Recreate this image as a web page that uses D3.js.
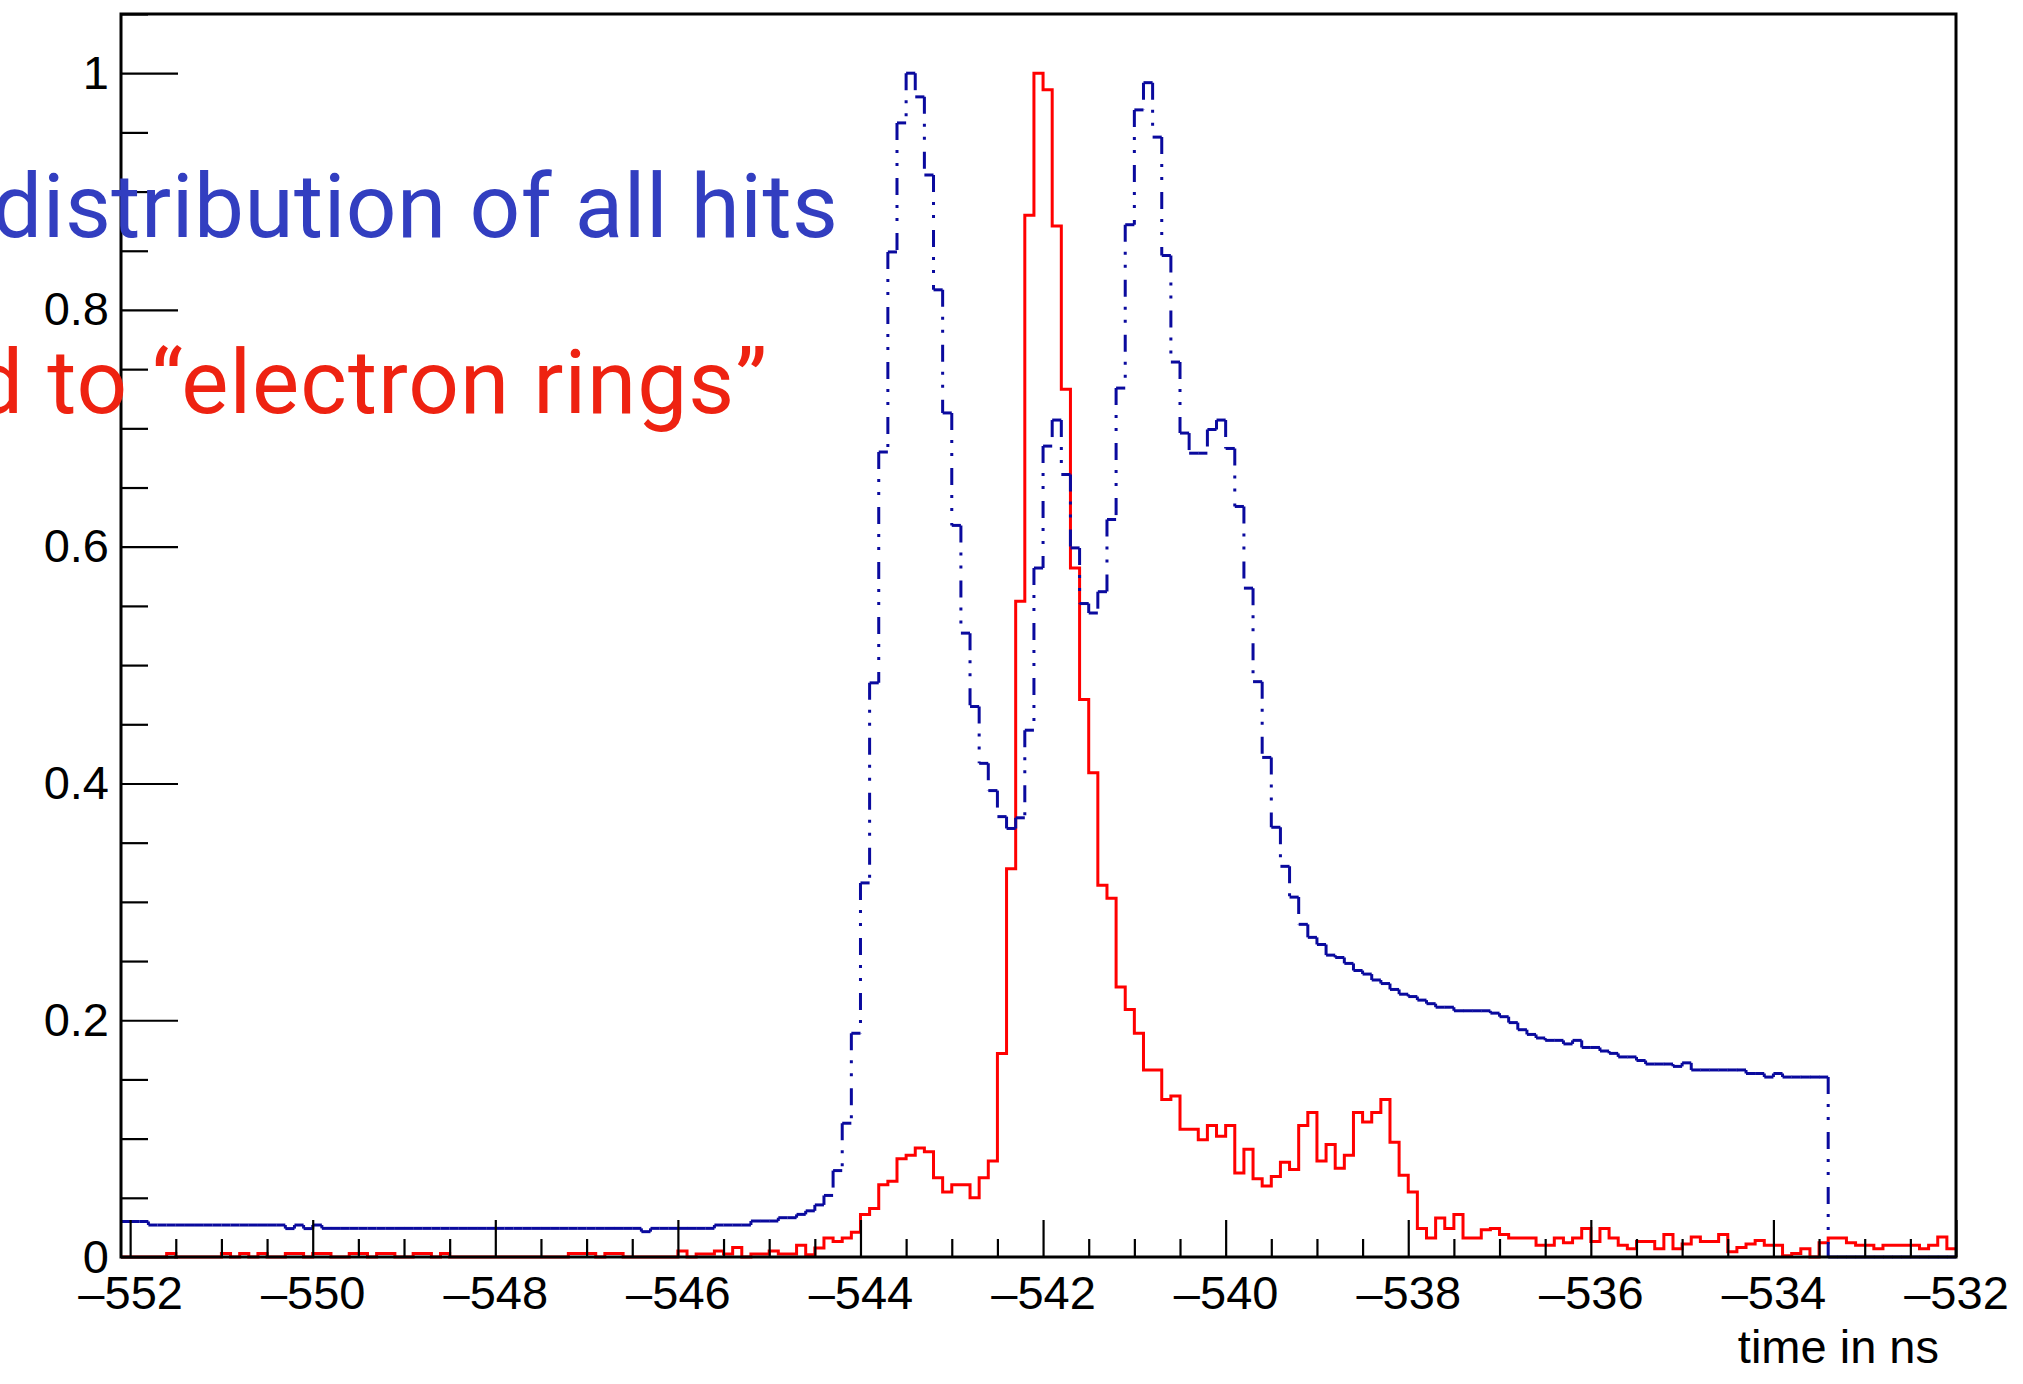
<!DOCTYPE html>
<html><head><meta charset="utf-8">
<script src="https://cdn.jsdelivr.net/npm/d3@7"></script>
<style>html,body{margin:0;padding:0;background:#fff;} svg{display:block;}</style>
</head><body>
<svg id="c" width="2023" height="1384"></svg>
<script>
// ---- data (histograms, 0.1 ns bins starting at -552.1 ns) ----
const binStart = -552.1;
const binWidth = 0.1;
const allHits = [
 0.030,0.030,0.030,
 0.027,0.027,0.027,0.027,0.027,0.027,0.027,0.027,0.027,0.027,0.027,0.027,0.027,0.027,0.027,
 0.024,0.027,0.024,0.027,
 0.0242,0.0242,0.0242,0.0242,0.0242,0.0242,0.0242,0.0242,0.0242,0.0242,0.0242,0.0242,0.0242,0.0242,0.0242,
 0.0242,0.0242,0.0242,0.0242,0.0242,0.0242,0.0242,0.0242,0.0242,0.0242,0.0242,0.0242,0.0242,0.0242,0.0242,
 0.0242,0.0242,0.0242,0.0242,0.0242,
 0.0214,
 0.0242,0.0242,0.0242,0.0242,0.0242,0.0242,0.0242,
 0.027,0.027,0.027,0.027,
 0.0304,0.0304,0.0304,
 0.0332,0.0332,
 0.036,0.039,0.044,0.052,0.073,0.113,0.189,0.316,0.485,0.680,0.849,0.958,1.000,0.980,0.914,0.817,
 0.713,0.618,0.527,0.465,0.417,0.394,0.372,0.362,0.371,0.445,0.582,0.685,0.707,0.661,0.599,0.552,
 0.544,0.562,0.623,0.734,0.872,0.969,0.992,0.946,0.846,0.756,0.696,0.679,0.679,0.699,0.707,0.683,
 0.634,0.565,0.486,0.422,0.363,0.330,0.304,0.281,0.270,0.264,0.255,0.253,0.248,0.242,0.239,0.234,
 0.231,0.226,0.222,0.220,0.217,0.214,0.211,0.211,
 0.208,0.208,0.208,0.208,
 0.206,0.203,0.198,0.192,0.188,0.185,0.183,0.183,0.180,0.183,0.177,0.177,0.174,0.172,0.169,0.169,
 0.166,0.163,0.163,0.163,0.161,0.164,
 0.158,0.158,0.158,0.158,0.158,0.158,
 0.155,0.155,0.152,0.155,
 0.152,0.152,0.152,0.152,0.152,
 0,0,0,0,0,0,0,0,0,0,0,0,0,0
];
const electronRings = [
 0,0,0,0,0, 0.003, 0,0,0,0,0, 0.003, 0, 0.003, 0, 0.003, 0,0, 0.003,0.003, 0, 0.003,0.003, 0,0,
 0.003,0.003, 0, 0.003,0.003, 0,0, 0.003,0.003, 0, 0.003,
 0,0,0,0,0,0,0,0,0,0,0,0,0,
 0.003,0.003,0.003, 0, 0.003,0.003, 0,0,0,0,0,0,
 0.005,0,0.0025,0.0025,0.005,0.0025,0.008,0,0.0025,0.0025,0.005,0.0025,0.0025,0.010,0.002,0.0075,
 0.016,0.013,0.016,0.021,0.036,0.041,0.061,0.064,0.083,0.086,0.092,0.089,0.067,0.055,0.061,0.061,
 0.050,0.067,0.081,0.172,0.328,0.554,0.880,1.000,0.986,0.871,0.733,0.582,0.471,0.409,0.314,0.303,
 0.228,0.209,0.189,0.158,0.158,0.133,0.136,0.108,0.108,0.099,0.111,0.102,0.111,0.071,0.091,0.066,
 0.060,0.068,0.080,0.074,0.111,0.122,0.081,0.095,0.075,0.086,0.122,0.114,0.122,0.133,0.097,0.069,
 0.055,0.024,0.016,0.033,0.024,0.036,0.016,0.016,0.023,0.024,0.019,0.016,0.016,0.016,0.010,0.010,
 0.016,0.012,0.016,0.024,0.013,0.024,0.016,0.010,0.007,0.013,0.013,0.007,0.019,0.007,0.011,0.017,
 0.013,0.013,0.019,0.0045,0.008,0.011,0.014,0.010,0.010,0.001,0.003,0.007,0,0.012,0.016,0.016,
 0.012,0.010,0.010,0.007,0.010,0.010,0.010,0.010,0.007,0.010,0.017,0.007
];
const xMajorTicks = [-552,-550,-548,-546,-544,-542,-540,-538,-536,-534,-532];
const xTickLabels = ["\u2013552","\u2013550","\u2013548","\u2013546","\u2013544","\u2013542","\u2013540","\u2013538","\u2013536","\u2013534","\u2013532"];
const yMajorTicks = [0,0.2,0.4,0.6,0.8,1];
const yTickLabels = ["0","0.2","0.4","0.6","0.8","1"];
const xTitle = "time in ns";
const blueLabel = "distribution of all hits";
const redLabel = "d to \u201celectron rings\u201d";

// ---- layout ----
const W = 2023, H = 1384;
const L = 121, R = 1956, T = 14, B = 1257;
const svg = d3.select("#c");
svg.append("rect").attr("width",W).attr("height",H).attr("fill","#fff");

const x = d3.scaleLinear().domain([-552.1,-532]).range([L,R]);
const y = d3.scaleLinear().domain([0,1.05]).range([B,T]);

const edge = i => binStart + i*binWidth;

// red histogram (solid)
const redPts = electronRings.map((v,i)=>[edge(i),v]);
redPts.push([edge(electronRings.length), electronRings[electronRings.length-1]]);
const line = d3.line().x(d=>x(d[0])).y(d=>y(d[1])).curve(d3.curveStepAfter);
svg.append("path").attr("d",line(redPts)).attr("fill","none")
  .attr("stroke","#ff0000").attr("stroke-width",3).attr("stroke-linejoin","miter");

// blue histogram (dash-dot-dot, pattern restarting on each segment)
const blueG = svg.append("g").attr("stroke","#0a0a9e").attr("stroke-width",3).attr("fill","none");
blueG.selectAll("path.h").data(allHits).join("path").attr("class","h")
  .attr("d",(v,i)=>`M${x(edge(i))},${y(v)}H${x(edge(i+1))}`);
const verts = allHits.slice(0,-1).map((v,i)=>({e:edge(i+1), a:v, b:allHits[i+1]}));
blueG.selectAll("path.v").data(verts).join("path").attr("class","v")
  .attr("stroke-dasharray","17,10,3,10,3,12")
  .attr("d",d=>`M${x(d.e)},${y(Math.max(d.a,d.b))}V${y(Math.min(d.a,d.b))}`);

// axes
const font = "'Liberation Sans', Arial, Helvetica, sans-serif";
const xMinor = d3.range(-552,-531.9,0.5).filter(t=>Math.abs(t-Math.round(t/2)*2)>1e-6);
const gxm = svg.append("g").attr("transform",`translate(0,${B})`)
  .call(d3.axisBottom(x).tickValues(xMinor).tickSize(-18).tickFormat(""));
const gx = svg.append("g").attr("transform",`translate(0,${B})`)
  .call(d3.axisBottom(x).tickValues(xMajorTicks).tickSize(-37).tickPadding(19)
        .tickFormat((d,i)=>xTickLabels[i]));
const yMinor = d3.range(0,1.051,0.05).filter(t=>Math.abs(t*5-Math.round(t*5))>1e-6);
const gym = svg.append("g").attr("transform",`translate(${L},0)`)
  .call(d3.axisLeft(y).tickValues(yMinor).tickSize(-27).tickFormat(""));
const gy = svg.append("g").attr("transform",`translate(${L},0)`)
  .call(d3.axisLeft(y).tickValues(yMajorTicks).tickSize(-57).tickPadding(12)
        .tickFormat((d,i)=>yTickLabels[i]));
[gx,gxm,gy,gym].forEach(g=>{
  g.select(".domain").remove();
  g.selectAll("line").attr("stroke","#000").attr("stroke-width",2.2);
  g.attr("font-family",font).attr("font-size",47);
  g.selectAll("text").attr("fill","#000");
});

// frame
svg.append("rect").attr("x",L).attr("y",T).attr("width",R-L).attr("height",B-T)
  .attr("fill","none").attr("stroke","#000").attr("stroke-width",3);

// axis title
svg.append("text").attr("x",1939).attr("y",1363).attr("text-anchor","end")
  .attr("font-family",font).attr("font-size",47).attr("fill","#000").text(xTitle);

// overlay labels (left part runs off the page, as in the reference)
const lab = "Roboto, 'Noto Sans', sans-serif";
svg.append("text").attr("x",-8).attr("y",237)
  .attr("font-family",lab).attr("font-size",89).attr("fill","#323ec0")
  .attr("textLength",846).attr("lengthAdjust","spacing").text(blueLabel);
svg.append("text").attr("x",-27).attr("y",413)
  .attr("font-family",lab).attr("font-size",89).attr("fill","#ee2211")
  .attr("textLength",794).attr("lengthAdjust","spacing").text(redLabel);
</script>
</body></html>
